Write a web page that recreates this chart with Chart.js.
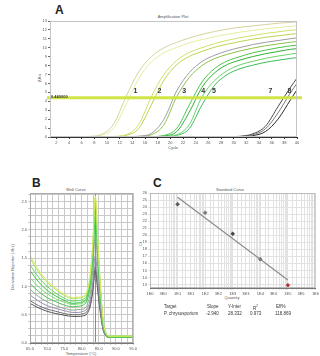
<!DOCTYPE html>
<html>
<head>
<meta charset="utf-8">
<script src="https://cdn.jsdelivr.net/npm/chart.js@4.4.0/dist/chart.umd.min.js"></script>
<style>
  html, body { margin: 0; padding: 0; background: #fff; }
  #fig { position: relative; width: 320px; height: 356px; overflow: hidden; font-family: "Liberation Sans", Arial, sans-serif; }
  canvas { position: absolute; }
  .t { position: absolute; white-space: nowrap; color: #555; font-size: 4px; line-height: 5px; }
  .c { transform: translateX(-50%); }
  .r { transform: translate(-50%, -50%) rotate(-90deg); }
  .lbl { position: absolute; font-weight: bold; font-size: 12px; line-height: 12px; color: #222; }
  .tb { position: absolute; white-space: nowrap; color: #333; font-size: 4.5px; line-height: 5px; }
</style>
</head>
<body>
<div id="fig">
  <div class="lbl" style="left:55px;top:4px">A</div>
  <div class="lbl" style="left:32px;top:177px">B</div>
  <div class="lbl" style="left:153px;top:177px">C</div>

  <div class="t c" style="left:173px;top:14px">Amplification Plot</div>
  <div class="t c" style="left:173px;top:145px">Cycle</div>
  <div class="t r" style="left:39px;top:78px">ΔRn</div>

  <div class="t c" style="left:76px;top:187px">Melt Curve</div>
  <div class="t c" style="left:81px;top:351px">Temperature (°C)</div>
  <div class="t r" style="left:12px;top:267px">Derivative Reporter (-Rn')</div>

  <div class="t c" style="left:230px;top:187px">Standard Curve</div>
  <div class="t c" style="left:232px;top:295px">Quantity</div>
  <div class="t r" style="left:140px;top:244px">Ct</div>

  <canvas id="ampChart" style="left:20px;top:8px" width="285" height="141"></canvas>
  <canvas id="meltChart" style="left:3px;top:183px" width="135" height="170"></canvas>
  <canvas id="stdChart" style="left:133px;top:183px" width="187" height="113"></canvas>

  <div class="tb" style="left:164px;top:304px">Target</div>
  <div class="tb" style="left:207px;top:304px">Slope</div>
  <div class="tb" style="left:228px;top:304px">Y-Inter</div>
  <div class="tb" style="left:253px;top:304px">R<sup style="font-size:3px">2</sup></div>
  <div class="tb" style="left:276px;top:304px">Eff%</div>
  <div class="tb" id="rowTarget" style="left:164px;top:311px"></div>
  <div class="tb" id="rowSlope" style="left:206px;top:311px"></div>
  <div class="tb" id="rowInter" style="left:228px;top:311px"></div>
  <div class="tb" id="rowR2" style="left:250px;top:311px"></div>
  <div class="tb" id="rowEff" style="left:275px;top:311px"></div>
</div>

<script>
// ---- A: amplification plot ----
const cycles = [1,3,5,7,9,11,13,15,17,19,21,23,25,27,29,31,33,35,37,39,40];
const cycleTicks = [2,4,6,8,10,12,14,16,18,20,22,24,26,28,30,32,34,36,38,40];
const amp1a = [0,0,0.01,0.06,0.25,1.4,4.5,7.3,9.0,10.0,10.6,11.1,11.5,11.83,12.1,12.3,12.45,12.6,12.75,12.85,12.9];
const amp1b = [0,0,0.01,0.04,0.18,0.95,3.6,6.55,8.4,9.43,10.03,10.55,10.92,11.24,11.52,11.75,11.94,12.13,12.27,12.4,12.45];
const amp2a = [0,0,0,0,0.01,0.06,0.25,1.4,4.5,7.03,8.57,9.47,10.01,10.47,10.83,11.13,11.37,11.6,11.78,11.96,12.0];
const amp2b = [0,0,0,0,0.01,0.04,0.18,0.95,3.6,6.38,8.09,9.03,9.59,10.06,10.4,10.7,10.96,11.17,11.34,11.51,11.6];
const amp3a = [0,0,0,0,0,0,0.02,0.09,0.4,2.0,5.16,7.22,8.46,9.16,9.66,10.03,10.36,10.61,10.81,11.02,11.1];
const amp3b = [0,0,0,0,0,0,0.01,0.06,0.25,1.4,4.5,6.68,8.01,8.79,9.26,9.65,9.96,10.22,10.43,10.62,10.7];
const amp4a = [0,0,0,0,0,0,0,0.01,0.04,0.18,0.95,3.6,6.17,7.68,8.52,9.01,9.43,9.73,10.0,10.22,10.3];
const amp4b = [0,0,0,0,0,0,0,0,0.03,0.12,0.6,2.8,5.57,7.2,8.12,8.62,9.01,9.33,9.58,9.83,9.9];
const amp5a = [0,0,0,0,0,0,0,0,0.01,0.06,0.25,1.4,4.5,6.33,7.44,8.09,8.48,8.81,9.07,9.29,9.4];
const amp5b = [0,0,0,0,0,0,0,0,0.01,0.04,0.18,0.95,3.6,5.81,7.0,7.65,8.04,8.37,8.6,8.81,8.9];
const amp7a = [0,0,0,0,0,0,0,0,0,0,0,0,0,0,0.02,0.08,0.35,1.2,3.4,5.6,6.6];
const amp7b = [0,0,0,0,0,0,0,0,0,0,0,0,0,0,0.01,0.05,0.25,0.9,2.7,5.0,6.0];
const amp8  = [0,0,0,0,0,0,0,0,0,0,0,0,0,0,0,0.03,0.15,0.6,2.0,4.2,5.3];
const threshold = 4.4;
const thresholdLabel = '0.440000';
const groupLabels = ['1','2','3','4','5','7','8'];
const groupLabelCycles = [14.5,18.3,22.2,25.2,26.9,35.8,38.8];
const groupLabelLevel = 5.1;

// ---- B: melt curve ----
const meltTemps = [65,67.5,70,72.5,75,77.5,79,80.5,81.5,82.5,83.25,84,84.75,85.5,86.25,87,88,90,92.5,95];
const meltTicks = [65,70,75,80,85,90,95];
const derivTicks = [0,0.5,1.0,1.5,2.0,2.5];
const melt1  = [1.55,1.29,1.10,0.97,0.86,0.80,0.81,0.83,0.90,1.20,1.76,2.60,1.81,1.01,0.42,0.19,0.12,0.12,0.12,0.12];
const melt2  = [1.50,1.25,1.07,0.94,0.84,0.78,0.79,0.81,0.88,1.17,1.72,2.55,1.77,1.00,0.41,0.19,0.12,0.12,0.12,0.12];
const melt3  = [1.38,1.16,1.00,0.88,0.79,0.74,0.75,0.77,0.84,1.12,1.65,2.45,1.70,0.96,0.40,0.19,0.12,0.12,0.12,0.12];
const melt4  = [1.28,1.08,0.93,0.83,0.75,0.70,0.71,0.73,0.80,1.07,1.58,2.35,1.63,0.92,0.38,0.18,0.11,0.11,0.11,0.11];
const melt5  = [1.15,0.99,0.87,0.78,0.72,0.68,0.69,0.71,0.78,1.05,1.54,2.30,1.60,0.90,0.37,0.18,0.11,0.11,0.11,0.11];
const melt6  = [1.05,0.91,0.80,0.73,0.67,0.64,0.65,0.67,0.74,0.99,1.47,2.20,1.53,0.86,0.35,0.16,0.10,0.10,0.10,0.10];
const melt7  = [0.95,0.82,0.73,0.66,0.61,0.58,0.59,0.60,0.66,0.87,1.28,1.90,1.32,0.75,0.32,0.15,0.10,0.10,0.10,0.10];
const melt8  = [0.85,0.74,0.66,0.61,0.57,0.54,0.54,0.56,0.60,0.76,1.07,1.55,1.09,0.62,0.27,0.14,0.10,0.10,0.10,0.10];
const melt9  = [0.75,0.66,0.60,0.56,0.52,0.50,0.50,0.52,0.55,0.68,0.95,1.35,0.95,0.55,0.25,0.14,0.10,0.10,0.10,0.10];
const melt10 = [0.70,0.62,0.56,0.52,0.49,0.47,0.47,0.48,0.51,0.64,0.90,1.28,0.90,0.52,0.24,0.13,0.10,0.10,0.10,0.10];
const meltTm = 84;

// ---- C: standard curve ----
const quantities = [10,100,1000,10000,100000];
const ctValues = [24.4,23.2,20.2,16.6,12.9];
const ctTicks = [13,14,15,16,17,18,19,20,21,22,23,24,25,26];
const slope = -2.94;
const intercept = 28.332;
const tableRow = ['P. chrysosporium','-2.940','28.332','0.973','118.869'];

Chart.defaults.font.family = '"Liberation Sans", Arial, sans-serif';
Chart.defaults.animation = false;
Chart.defaults.plugins.legend.display = false;
Chart.defaults.plugins.tooltip.enabled = false;

function xy(xs, ys) {
  return ys.map((v, i) => ({ x: xs[i], y: v }));
}

// light border round the plotting area
const framePlugin = {
  id: 'frame',
  afterDraw(chart, args, opts) {
    const a = chart.chartArea;
    const ctx = chart.ctx;
    ctx.save();
    ctx.strokeStyle = opts.color || '#bbb';
    ctx.lineWidth = 1;
    ctx.strokeRect(a.left + 0.5, a.top + 0.5, a.right - a.left - 1, a.bottom - a.top - 1);
    ctx.restore();
  }
};

const thresholdPlugin = {
  id: 'threshold',
  afterDatasetsDraw(chart) {
    const { ctx, chartArea, scales } = chart;
    const y = scales.y.getPixelForValue(threshold);
    ctx.save();
    ctx.strokeStyle = 'rgba(205,228,60,0.95)';
    ctx.lineWidth = 3;
    ctx.beginPath();
    ctx.moveTo(chartArea.left - 3, y);
    ctx.lineTo(chartArea.right + 5, y);
    ctx.stroke();
    ctx.fillStyle = '#333';
    ctx.font = 'bold 4px "Liberation Sans"';
    ctx.textBaseline = 'middle';
    ctx.fillText(thresholdLabel, chartArea.left + 1, y - 1);
    ctx.font = 'bold 7px "Liberation Sans"';
    ctx.textAlign = 'center';
    ctx.fillStyle = '#333';
    groupLabels.forEach((t, i) => {
      ctx.fillText(t, scales.x.getPixelForValue(groupLabelCycles[i]), scales.y.getPixelForValue(groupLabelLevel));
    });
    ctx.restore();
  }
};

const tmPlugin = {
  id: 'tmline',
  beforeDatasetsDraw(chart) {
    const { ctx, chartArea, scales } = chart;
    const x = Math.round(scales.x.getPixelForValue(meltTm)) + 0.5;
    ctx.save();
    ctx.strokeStyle = '#8a8a8a';
    ctx.lineWidth = 1;
    ctx.beginPath();
    ctx.moveTo(x, chartArea.top);
    ctx.lineTo(x, chartArea.bottom);
    ctx.stroke();
    ctx.restore();
  }
};

const smallTicks = { font: { size: 4 }, color: '#555', padding: 1, maxRotation: 0, autoSkip: false };

// ---- A ----
const ampSeries = [
  [amp1a, '#d6d29c'], [amp1b, '#e6eea0'],
  [amp2a, '#cfe06a'], [amp2b, '#bdd44e'],
  [amp3a, '#a29aa6'], [amp3b, '#8cc24a'],
  [amp4a, '#4cc64c'], [amp4b, '#2eb236'], [amp5a, '#6ad46a'], [amp5b, '#3cbc5a'],
  [amp7a, '#4a4a4a'], [amp7b, '#7a7a7a'], [amp8, '#2a2a2a']
];

new Chart(document.getElementById('ampChart'), {
  type: 'line',
  data: {
    datasets: ampSeries.map(s => ({
      data: xy(cycles, s[0]),
      borderColor: s[1],
      borderWidth: 1,
      pointRadius: 0,
      fill: false,
      cubicInterpolationMode: 'monotone'
    }))
  },
  options: {
    responsive: false,
    devicePixelRatio: 1,
    layout: { padding: { top: 13, right: 8, left: 0, bottom: 0 }, autoPadding: false },
    scales: {
      x: {
        type: 'linear', min: 1, max: 40,
        afterBuildTicks: s => { s.ticks = cycleTicks.map(v => ({ value: v })); },
        afterFit: s => { s.height = 12; },
        grid: { drawOnChartArea: false, tickLength: 2, color: '#333' },
        border: { color: '#333' },
        ticks: smallTicks
      },
      y: {
        min: 0, max: 13,
        afterFit: s => { s.width = 30; },
        grid: { drawOnChartArea: false, tickLength: 2, color: '#666' },
        border: { color: '#888' },
        ticks: Object.assign({}, smallTicks, { stepSize: 1 })
      }
    },
    plugins: { frame: { color: '#c4c4c4' } }
  },
  plugins: [framePlugin, thresholdPlugin]
});

// ---- B ----
const meltSeries = [
  [melt1, '#d4ec5c'], [melt2, '#a8e45a'], [melt3, '#5cd85c'], [melt4, '#36c63a'],
  [melt5, '#7ae07a'], [melt6, '#48c048'], [melt7, '#8aa890'], [melt8, '#9a8cb4'],
  [melt9, '#6e6e6e'], [melt10, '#505058']
];

new Chart(document.getElementById('meltChart'), {
  type: 'line',
  data: {
    datasets: meltSeries.map(s => ({
      data: xy(meltTemps, s[0]),
      borderColor: s[1],
      borderWidth: 1,
      pointRadius: 0,
      fill: false,
      cubicInterpolationMode: 'monotone'
    }))
  },
  options: {
    responsive: false,
    devicePixelRatio: 1,
    layout: { padding: { top: 10, right: 3, left: 0, bottom: 0 }, autoPadding: false },
    scales: {
      x: {
        type: 'linear', min: 65, max: 95,
        afterBuildTicks: s => {
          const t = [];
          meltTicks.forEach((v, i) => {
            t.push({ value: v });
            if (i < meltTicks.length - 1) {
              const step = (meltTicks[i + 1] - v) / 3;
              t.push({ value: v + step }, { value: v + 2 * step });
            }
          });
          s.ticks = t;
        },
        afterFit: s => { s.height = 10; },
        grid: { color: '#c9c9c9', tickLength: 2 },
        border: { color: '#777' },
        ticks: Object.assign({}, smallTicks, { callback: v => meltTicks.includes(v) ? v.toFixed(1) : '' })
      },
      y: {
        min: 0, max: 2.65,
        afterBuildTicks: s => {
          const t = [];
          derivTicks.forEach(v => {
            for (let k = 0; k < 4; k++) {
              if (v + k * 0.125 <= 2.65) t.push({ value: v + k * 0.125 });
            }
          });
          s.ticks = t;
        },
        afterFit: s => { s.width = 27; },
        grid: { color: '#c9c9c9', tickLength: 2 },
        border: { color: '#777' },
        ticks: Object.assign({}, smallTicks, { callback: v => derivTicks.includes(v) ? v.toFixed(1) : '' })
      }
    },
    plugins: { frame: { color: '#aaa' } }
  },
  plugins: [framePlugin, tmPlugin]
});

// ---- C ----
const fitLine = [quantities[0], quantities[quantities.length - 1]].map(q => ({
  x: q, y: slope * Math.log10(q) + intercept
}));

new Chart(document.getElementById('stdChart'), {
  type: 'scatter',
  data: {
    datasets: [
      {
        data: fitLine,
        showLine: true,
        borderColor: '#8c8c8c',
        borderWidth: 1.2,
        pointRadius: 0
      },
      {
        data: xy(quantities, ctValues),
        pointStyle: 'rectRot',
        pointRadius: 2,
        pointBackgroundColor: ['#555', '#777', '#444', '#666', '#b03030'],
        pointBorderColor: ['#555', '#777', '#444', '#666', '#b03030'],
        pointBorderWidth: 0.5
      }
    ]
  },
  options: {
    responsive: false,
    devicePixelRatio: 1,
    layout: { padding: { top: 10, right: 0, left: 0, bottom: 0 }, autoPadding: false },
    scales: {
      x: {
        type: 'logarithmic', min: 1, max: 1000000,
        afterFit: s => { s.height = 8; },
        grid: { color: '#e2e2e2', tickLength: 2 },
        border: { color: '#777' },
        ticks: Object.assign({}, smallTicks, {
          callback: v => {
            const e = Math.floor(Math.log10(v) + 1e-9);
            const m = Math.round(v / Math.pow(10, e));
            return (m === 1 || m === 3) ? m + 'E' + e : '';
          }
        })
      },
      y: {
        min: 12.5, max: 26,
        afterBuildTicks: s => { s.ticks = ctTicks.map(v => ({ value: v })); },
        afterFit: s => { s.width = 17; },
        grid: { color: '#e2e2e2', tickLength: 2 },
        border: { color: '#777' },
        ticks: smallTicks
      }
    },
    plugins: { frame: { color: '#bbb' } }
  },
  plugins: [framePlugin]
});

const ids = ['rowTarget', 'rowSlope', 'rowInter', 'rowR2', 'rowEff'];
ids.forEach((id, i) => { document.getElementById(id).textContent = tableRow[i]; });
</script>
</body>
</html>
